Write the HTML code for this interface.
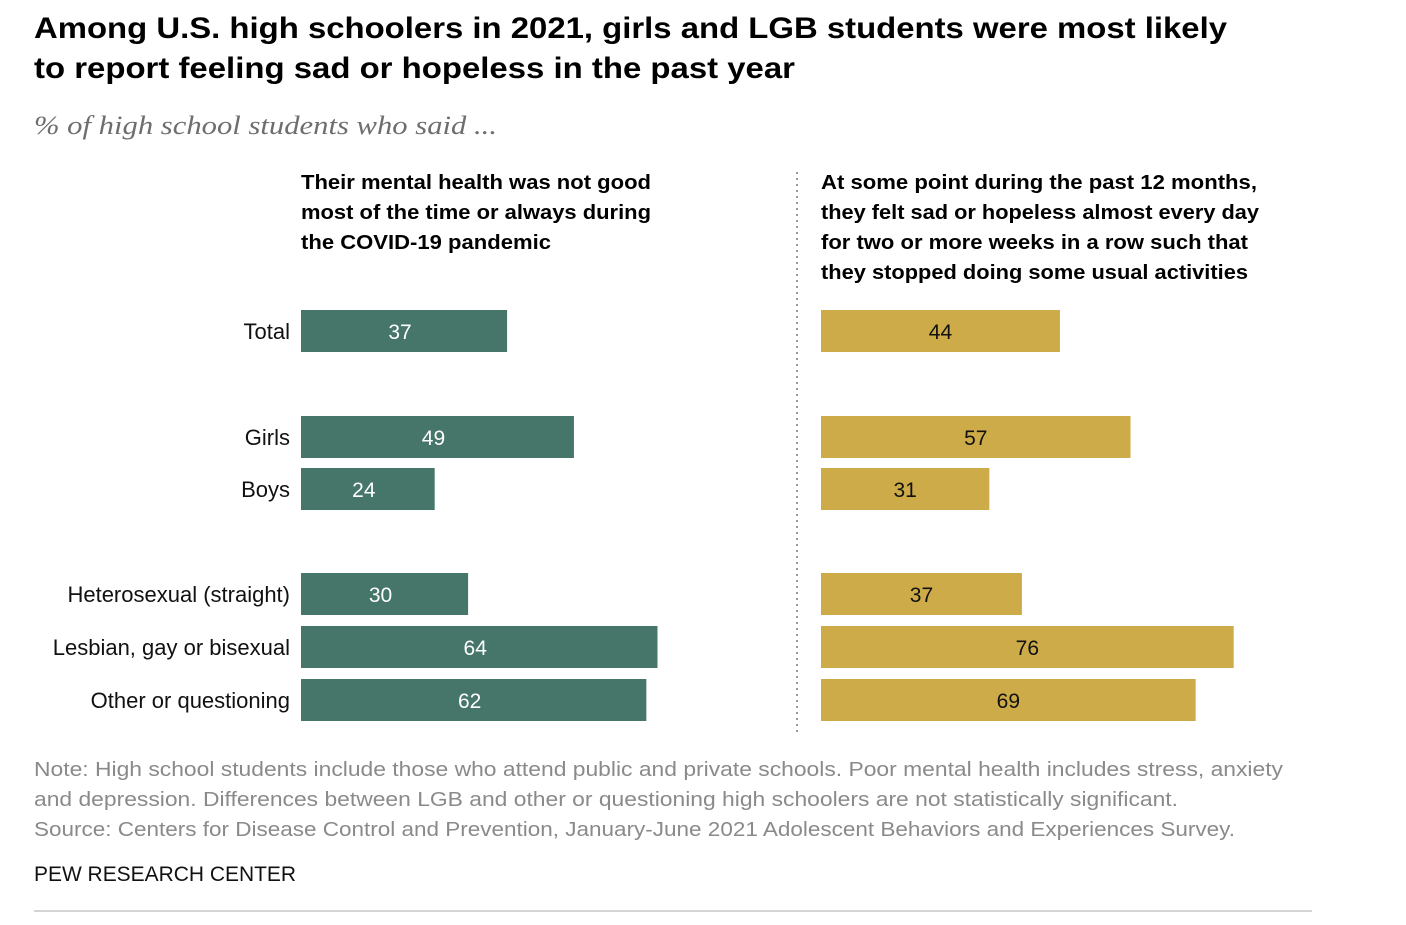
<!DOCTYPE html>
<html><head><meta charset="utf-8"><style>
body{margin:0;background:#fff;}
svg text{font-family:"Liberation Sans",sans-serif;}
</style></head><body>
<svg id="chart" width="1406" height="920" xmlns="http://www.w3.org/2000/svg">
<text font-weight="bold" font-size="30" fill="#000">
<tspan x="34" y="38" textLength="1193" lengthAdjust="spacingAndGlyphs">Among U.S. high schoolers in 2021, girls and LGB students were most likely</tspan>
<tspan x="34" y="78" textLength="761" lengthAdjust="spacingAndGlyphs">to report feeling sad or hopeless in the past year</tspan></text>
<text x="34" y="134" font-size="26" font-style="italic" fill="#6e6e6e" style="font-family:'Liberation Serif',serif" textLength="463" lengthAdjust="spacingAndGlyphs">% of high school students who said ...</text>
<text font-weight="bold" font-size="20" fill="#000">
<tspan x="301" y="189" textLength="350" lengthAdjust="spacingAndGlyphs">Their mental health was not good</tspan>
<tspan x="301" y="219" textLength="350" lengthAdjust="spacingAndGlyphs">most of the time or always during</tspan>
<tspan x="301" y="249" textLength="250" lengthAdjust="spacingAndGlyphs">the COVID-19 pandemic</tspan></text>
<text font-weight="bold" font-size="20" fill="#000">
<tspan x="821" y="189" textLength="436" lengthAdjust="spacingAndGlyphs">At some point during the past 12 months,</tspan>
<tspan x="821" y="219" textLength="438" lengthAdjust="spacingAndGlyphs">they felt sad or hopeless almost every day</tspan>
<tspan x="821" y="249" textLength="427" lengthAdjust="spacingAndGlyphs">for two or more weeks in a row such that</tspan>
<tspan x="821" y="279" textLength="427" lengthAdjust="spacingAndGlyphs">they stopped doing some usual activities</tspan></text>
<line x1="797" y1="172" x2="797" y2="732" stroke="#999" stroke-width="2" stroke-dasharray="2,4"/>
<g id="bars"></g>
<text font-size="20" fill="#8a8a8a">
<tspan x="34" y="776" textLength="1249" lengthAdjust="spacingAndGlyphs">Note: High school students include those who attend public and private schools. Poor mental health includes stress, anxiety</tspan>
<tspan x="34" y="806" textLength="1144" lengthAdjust="spacingAndGlyphs">and depression. Differences between LGB and other or questioning high schoolers are not statistically significant.</tspan>
<tspan x="34" y="836" textLength="1201" lengthAdjust="spacingAndGlyphs">Source: Centers for Disease Control and Prevention, January-June 2021 Adolescent Behaviors and Experiences Survey.</tspan></text>
<text x="34" y="881" font-size="21" fill="#111" textLength="262" lengthAdjust="spacingAndGlyphs">PEW RESEARCH CENTER</text>
<line x1="34" y1="911" x2="1312" y2="911" stroke="#aaa" stroke-width="1"/>
</svg>
<script>
const categories=["Total","Girls","Boys","Heterosexual (straight)","Lesbian, gay or bisexual","Other or questioning"];
const mentalHealth=[37,49,24,30,64,62];
const sadHopeless=[44,57,31,37,76,69];
const NS="http://www.w3.org/2000/svg";
const g=document.getElementById('bars');
const rowY=[310,416,468,573,626,679];
const barH=42;
function xLeft(v){return v*5.57;}
function xRight(v){return v*5.43;}
function mk(tag,attrs){const e=document.createElementNS(NS,tag);for(const k in attrs)e.setAttribute(k,attrs[k]);return e;}
categories.forEach((c,i)=>{
  const y=rowY[i];
  const lab=mk('text',{x:290,y:y+29,'text-anchor':'end','font-size':22,fill:'#111'});
  
  
  lab.textContent=c;g.appendChild(lab);
  const w1=xLeft(mentalHealth[i]);
  const b1=mk('rect',{x:301,y:y,width:w1,height:barH,fill:'#46756a'});
  
  
  g.appendChild(b1);
  const t1=mk('text',{x:301+w1/2-4,y:y+29,'text-anchor':'middle','font-size':21,fill:'#fff'});
  
  
  t1.textContent=mentalHealth[i];g.appendChild(t1);
  const w2=xRight(sadHopeless[i]);
  const b2=mk('rect',{x:821,y:y,width:w2,height:barH,fill:'#cdab48'});
  
  
  g.appendChild(b2);
  const t2=mk('text',{x:821+w2/2,y:y+29,'text-anchor':'middle','font-size':21,fill:'#111'});
  
  
  t2.textContent=sadHopeless[i];g.appendChild(t2);
});
</script>
</body></html>
